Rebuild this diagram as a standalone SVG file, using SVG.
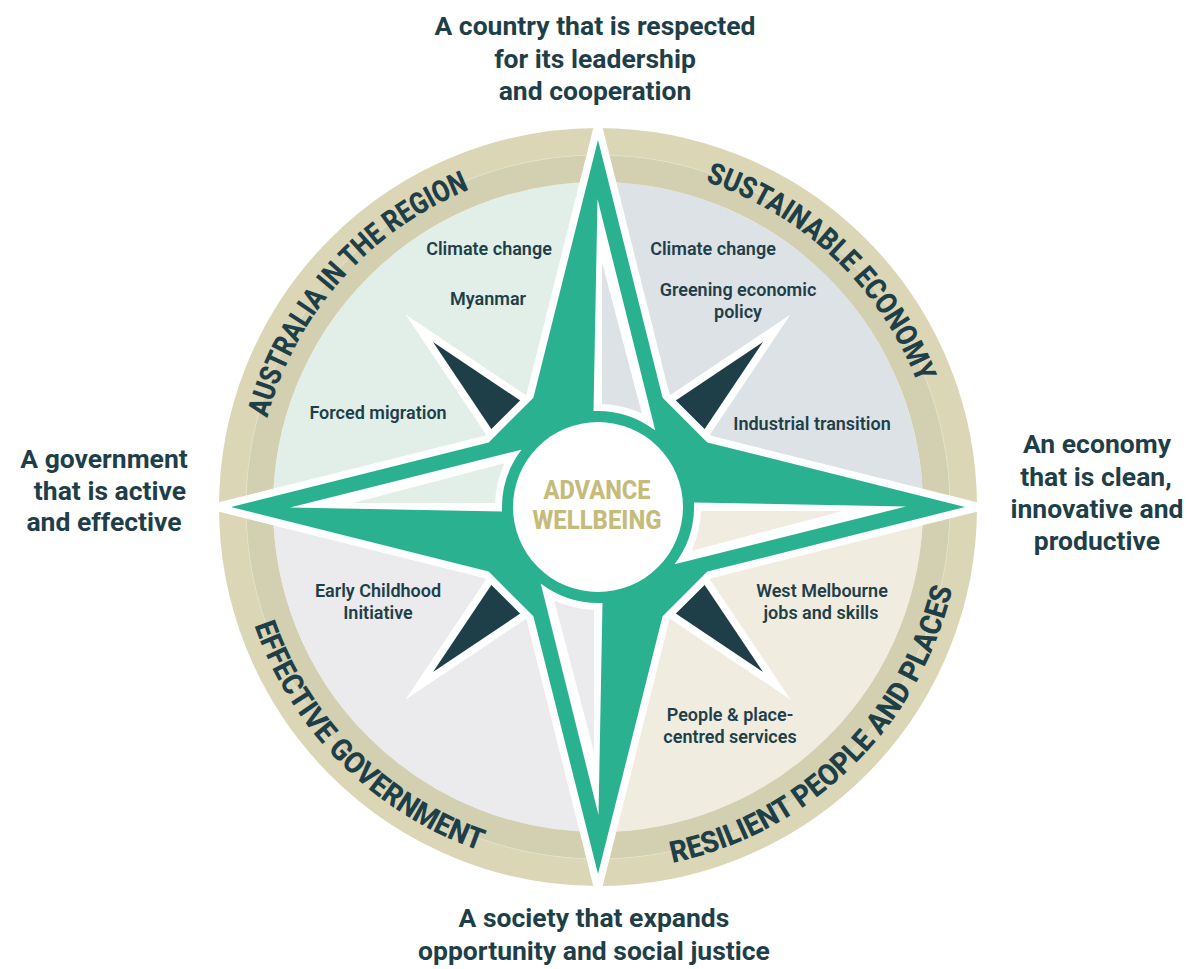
<svg xmlns="http://www.w3.org/2000/svg" width="1189" height="969" viewBox="0 0 1189 969">
<defs>
<style>
.t{fill:#1f3f48;font-family:Roboto,"Liberation Sans",sans-serif}
.outer{font-size:26.5px;font-weight:700;text-anchor:middle}
.inner{font-size:18px;font-weight:600;text-anchor:middle}
.arc{font-size:30px;font-weight:800}
.ctr{fill:#c5bb7b;font-family:Roboto,"Liberation Sans",sans-serif;font-size:25px;font-weight:800;text-anchor:middle}
.diag{fill:#1f3f48;stroke:#fff;stroke-width:15;stroke-linejoin:miter;stroke-miterlimit:8;paint-order:stroke}
.hw{fill:#fff}
</style>
<path id="arcTL" d="M255.6 498.0 A342.5 342.5 0 0 1 547.4 168.3"/>
<path id="arcTR" d="M618.9 165.1 A342.5 342.5 0 0 1 938.3 468.3"/>
<path id="arcBL" d="M235.9 538.6 A363.5 363.5 0 0 0 566.3 869.1"/>
<path id="arcBR" d="M562.9 868.8 A363.5 363.5 0 0 0 960.4 478.8"/>
</defs>
<rect width="1189" height="969" fill="#fff"/>
<g id="compass" transform="translate(598 507)">
<g id="quadrants">
<path d="M0 0 L-325 0 A325 325 0 0 1 0 -325 Z" fill="#e1efe8"/>
<path d="M0 0 L0 -325 A325 325 0 0 1 325 0 Z" fill="#dde2e6"/>
<path d="M0 0 L325 0 A325 325 0 0 1 0 325 Z" fill="#f0ede0"/>
<path d="M0 0 L0 325 A325 325 0 0 1 -325 0 Z" fill="#ebebee"/>
</g>
<g id="ring" fill="none">
<circle r="365.5" stroke="#dbd6b6" stroke-width="27"/>
<circle r="338.5" stroke="#d2d0b1" stroke-width="27"/>
<circle r="352" stroke="#e6e2cc" stroke-width="1" opacity="0.7"/>
</g>
<g id="diagonals">
<polygon class="diag" points="-165,-165 -77,-106 -106,-77"/>
<polygon class="diag" points="-165,-165 -77,-106 -106,-77" transform="rotate(90)"/>
<polygon class="diag" points="-165,-165 -77,-106 -106,-77" transform="rotate(180)"/>
<polygon class="diag" points="-165,-165 -77,-106 -106,-77" transform="rotate(270)"/>
</g>
<g id="star">
<polygon points="0,-367 64.6,-109.3 109.3,-64.6 367,0 109.3,64.6 64.6,109.3 0,367 -64.6,109.3 -109.3,64.6 -367,0 -109.3,-64.6 -64.6,-109.3" fill="#29b190" stroke="#fff" stroke-width="15" stroke-linejoin="miter" stroke-miterlimit="10" paint-order="stroke"/>
</g>
<g id="hollows">
<g>
<path class="hw" d="M-308 0.5 L-76.5 -57.3 A96 96 0 0 0 -96 4.5 Z"/>
<path d="M-245 -4 L-93.5 -43.8 A103 103 0 0 0 -102.9 -4 Z" fill="#e1efe8"/>
</g>
<g transform="rotate(90)">
<path class="hw" d="M-308 0.5 L-76.5 -57.3 A96 96 0 0 0 -96 4.5 Z"/>
<path d="M-245 -4 L-93.5 -43.8 A103 103 0 0 0 -102.9 -4 Z" fill="#dde2e6"/>
</g>
<g transform="rotate(180)">
<path class="hw" d="M-308 0.5 L-76.5 -57.3 A96 96 0 0 0 -96 4.5 Z"/>
<path d="M-245 -4 L-93.5 -43.8 A103 103 0 0 0 -102.9 -4 Z" fill="#f0ede0"/>
</g>
<g transform="rotate(270)">
<path class="hw" d="M-308 0.5 L-76.5 -57.3 A96 96 0 0 0 -96 4.5 Z"/>
<path d="M-245 -4 L-93.5 -43.8 A103 103 0 0 0 -102.9 -4 Z" fill="#ebebee"/>
</g>
</g>
<circle id="centre-disc" r="85" fill="#fff"/>
</g>
<g id="centre-label">
<text class="ctr" x="597" y="499" textLength="107" lengthAdjust="spacingAndGlyphs">ADVANCE</text>
<text class="ctr" x="597" y="529" textLength="129" lengthAdjust="spacingAndGlyphs">WELLBEING</text>
</g>
<g id="ring-labels" class="t arc">
<text><textPath href="#arcTL" startOffset="50%" text-anchor="middle" textLength="316" lengthAdjust="spacingAndGlyphs">AUSTRALIA IN THE REGION</textPath></text>
<text><textPath href="#arcTR" startOffset="50%" text-anchor="middle" textLength="302" lengthAdjust="spacingAndGlyphs">SUSTAINABLE ECONOMY</textPath></text>
<text><textPath href="#arcBL" startOffset="50%" text-anchor="middle" textLength="330" lengthAdjust="spacingAndGlyphs">EFFECTIVE GOVERNMENT</textPath></text>
<text><textPath href="#arcBR" startOffset="50%" text-anchor="middle" textLength="414" lengthAdjust="spacingAndGlyphs">RESILIENT PEOPLE AND PLACES</textPath></text>
</g>
<g id="quadrant-items" class="t inner">
<text x="489" y="255">Climate change</text>
<text x="488" y="305">Myanmar</text>
<text x="378" y="419">Forced migration</text>
<text x="713" y="255">Climate change</text>
<text x="738" y="296">Greening economic</text>
<text x="738" y="318">policy</text>
<text x="812" y="430">Industrial transition</text>
<text x="378" y="597">Early Childhood</text>
<text x="378" y="619">Initiative</text>
<text x="822" y="597">West Melbourne</text>
<text x="821" y="619">jobs and skills</text>
<text x="730" y="721">People &amp; place-</text>
<text x="730" y="743">centred services</text>
</g>
<g id="goal-top" class="t outer">
<text x="595" y="35">A country that is respected</text>
<text x="595" y="68">for its leadership</text>
<text x="595" y="100">and cooperation</text>
</g>
<g id="goal-left" class="t outer">
<text x="104" y="468">A government</text>
<text x="110" y="500">that is active</text>
<text x="104" y="531">and effective</text>
</g>
<g id="goal-right" class="t outer">
<text x="1097" y="453">An economy</text>
<text x="1096" y="486">that is clean,</text>
<text x="1097" y="518">innovative and</text>
<text x="1097" y="550">productive</text>
</g>
<g id="goal-bottom" class="t outer">
<text x="594" y="927">A society that expands</text>
<text x="594" y="960">opportunity and social justice</text>
</g>
</svg>
